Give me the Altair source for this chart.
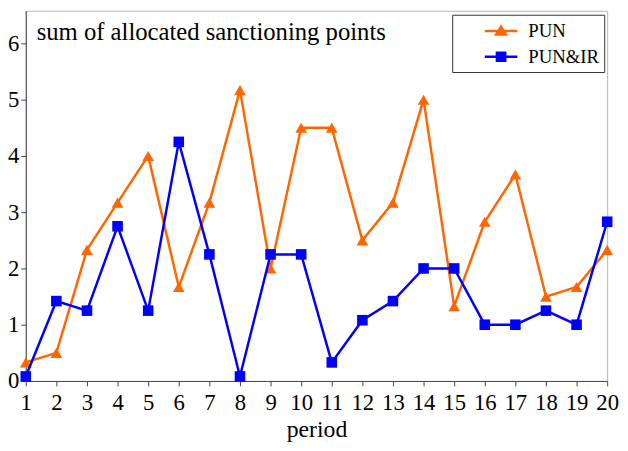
import altair as alt
import pandas as pd

periods = list(range(1, 21))
pun = [0.33, 0.5, 2.33, 3.17, 4.0, 1.67, 3.17, 5.17, 2.0, 4.5,
       4.5, 2.5, 3.17, 5.0, 1.33, 2.83, 3.67, 1.5, 1.67, 2.33]
pun_ir = [0.08, 1.42, 1.25, 2.75, 1.25, 4.25, 2.25, 0.08, 2.25, 2.25,
          0.33, 1.08, 1.42, 2.0, 2.0, 1.0, 1.0, 1.25, 1.0, 2.83]
series_names = ["PUN", "PUN&IR"]
series_colors = ["#FF6600", "#0000FF"]
x_ticks = list(range(1, 21))
y_ticks = [0, 1, 2, 3, 4, 5, 6]
title_text = "sum of allocated sanctioning points"

df = pd.DataFrame({
    "period": periods * 2,
    "value": pun + pun_ir,
    "series": [series_names[0]] * len(pun) + [series_names[1]] * len(pun_ir),
})

SERIF = "Liberation Serif"

x_enc = alt.X("period:Q",
              scale=alt.Scale(domain=[1, 20], nice=False, zero=False),
              axis=alt.Axis(values=x_ticks, format="d", title="period"))
y_enc = alt.Y("value:Q",
              scale=alt.Scale(domain=[0, 6.58], nice=False),
              axis=alt.Axis(values=y_ticks, format="d", title=None))

base = alt.Chart(df).encode(x=x_enc, y=y_enc)

layers = []
shapes = ["triangle-up", "square"]
sizes = [140, 115]
for name, col, shp, sz in zip(series_names, series_colors, shapes, sizes):
    sub = base.transform_filter(alt.datum.series == name)
    layers.append(sub.mark_line(color=col, strokeWidth=2.5))
    layers.append(sub.mark_point(shape=shp, filled=True, color=col, size=sz, opacity=1))

legend_paths = [
    "M-1.65,0H1.65M0,-0.45L0.5,0.35H-0.5Z",
    "M-1.65,0H1.65M-0.42,-0.4H0.42V0.4H-0.42Z",
]
legend_layer = base.transform_filter("false").mark_point(filled=False, strokeWidth=2.5, opacity=1).encode(
    color=alt.Color("series:N", scale=alt.Scale(domain=series_names, range=series_colors),
                    legend=alt.Legend(title=None)),
    fill=alt.Fill("series:N", scale=alt.Scale(domain=series_names, range=series_colors),
                  legend=alt.Legend(title=None)),
    shape=alt.Shape("series:N", scale=alt.Scale(domain=series_names, range=legend_paths),
                    legend=alt.Legend(title=None)),
)
layers.append(legend_layer)

chart = alt.layer(*layers).properties(
    width=589,
    height=375,
    autosize=alt.AutoSizeParams(type="none"),
    padding={"left": 18, "top": 0, "right": 13, "bottom": 60},
    title=alt.TitleParams(text=title_text, anchor="start", frame="group",
                          font=SERIF, fontSize=25, fontWeight="normal", color="black",
                          baseline="alphabetic", offset=0, dx=11, dy=55),
).configure_view(
    stroke="#b4b4b4", strokeWidth=1
).configure_axis(
    labelFont=SERIF, labelFontSize=23, labelColor="black",
    titleFont=SERIF, titleFontSize=24, titleFontWeight="normal", titleColor="black",
    domainColor="#444444", tickColor="#444444", tickSize=5, domainWidth=1, tickWidth=1,
    grid=False, labelFlush=False, labelOverlap=False,
).configure_axisX(
    labelPadding=6, titlePadding=3,
).configure_axisY(
    labelPadding=2,
).configure_legend(
    orient="none", legendX=432, legendY=4,
    padding=5, strokeColor="#333333", fillColor="white",
    symbolSize=400, symbolStrokeWidth=2.5, symbolOffset=33,
    labelFont=SERIF, labelFontSize=19, labelColor="black", labelOffset=16,
    rowPadding=4,
)

chart.save("out.html", embed_options={"renderer": "svg", "actions": False})
